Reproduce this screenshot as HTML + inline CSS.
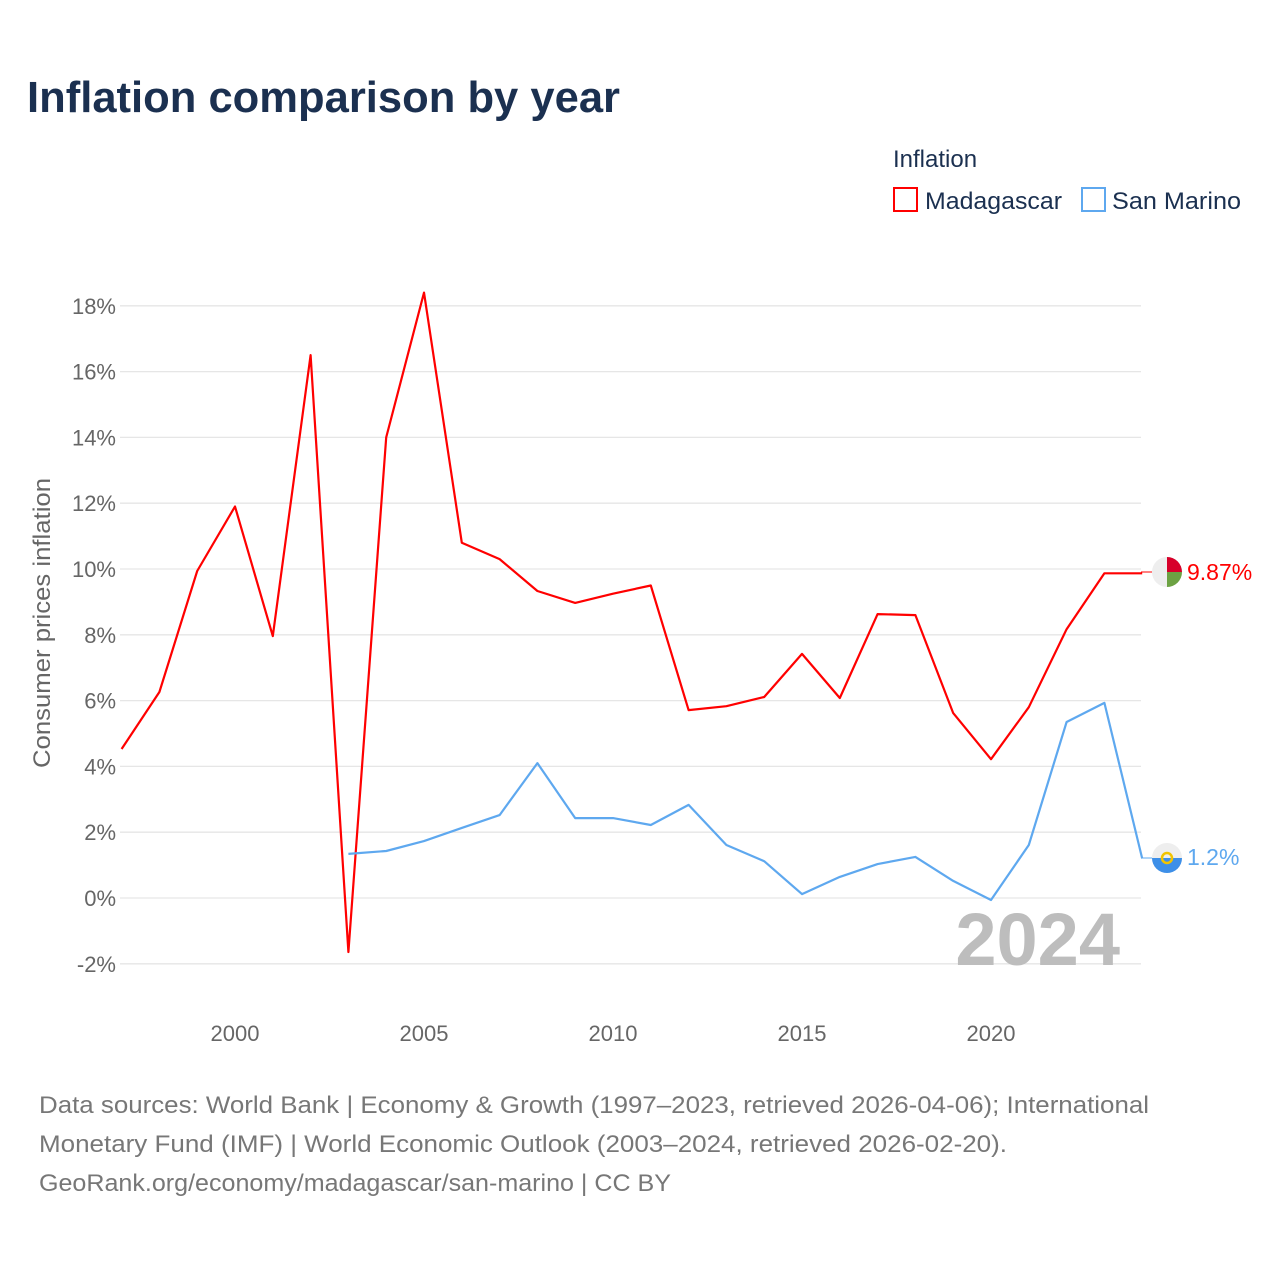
<!DOCTYPE html>
<html><head><meta charset="utf-8"><style>
html,body{margin:0;padding:0;background:#fff;}
svg{display:block;font-family:"Liberation Sans",sans-serif;}
</style></head><body>
<svg id="chart" width="1280" height="1280" viewBox="0 0 1280 1280">
<text x="27" y="112" font-size="44" font-weight="bold" fill="#1b3050" textLength="593" lengthAdjust="spacingAndGlyphs">Inflation comparison by year</text>
<g>
<text x="893" y="167" font-size="24" fill="#1b3050">Inflation</text>
<g>
<rect x="894" y="188" width="23" height="23" fill="#fff" stroke="#ff0000" stroke-width="2"/>
<text x="925" y="209" font-size="24" fill="#1b3050" textLength="137" lengthAdjust="spacingAndGlyphs">Madagascar</text></g>
<g>
<rect x="1082" y="188" width="23" height="23" fill="#fff" stroke="#5ea8ef" stroke-width="2"/>
<text x="1112" y="209" font-size="24" fill="#1b3050" textLength="129" lengthAdjust="spacingAndGlyphs">San Marino</text></g>
</g>
<g id="grid"></g>
<g id="yticks"></g>
<g id="xticks"></g>
<text transform="translate(50,623) rotate(-90)" text-anchor="middle" font-size="24" fill="#666" textLength="290" lengthAdjust="spacingAndGlyphs">Consumer prices inflation</text>
<text x="1120" y="965" text-anchor="end" font-size="74" font-weight="bold" fill="#bdbdbd">2024</text>
<g id="series"></g>
<line x1="1141" y1="572" x2="1152" y2="572" stroke="#ff0000" stroke-width="1"/>
<line x1="1141" y1="858" x2="1152" y2="858" stroke="#5ea8ef" stroke-width="1"/>
<g>
<circle cx="1167" cy="572" r="15" fill="#eee"/>
<path d="M1167 557 A15 15 0 0 1 1182 572 L1167 572 Z" fill="#d7002a"/>
<path d="M1182 572 A15 15 0 0 1 1167 587 L1167 572 Z" fill="#6ca243"/>
</g>
<text x="1187" y="580" font-size="23" fill="#ff0000">9.87%</text>
<g>
<circle cx="1167" cy="858" r="15" fill="#eee"/>
<path d="M1152 858 L1182 858 A15 15 0 0 1 1152 858 Z" fill="#3d8fe8"/>
<circle cx="1167" cy="858" r="5" fill="none" stroke="#f2c400" stroke-width="2.5"/>
</g>
<text x="1187" y="865" font-size="23" fill="#5ea8ef">1.2%</text>
<g font-size="24" fill="#777">
<text x="39" y="1113" textLength="1110" lengthAdjust="spacingAndGlyphs">Data sources: World Bank | Economy &amp; Growth (1997–2023, retrieved 2026-04-06); International</text>
<text x="39" y="1152" textLength="968" lengthAdjust="spacingAndGlyphs">Monetary Fund (IMF) | World Economic Outlook (2003–2024, retrieved 2026-02-20).</text>
<text x="39" y="1191" textLength="632" lengthAdjust="spacingAndGlyphs">GeoRank.org/economy/madagascar/san-marino | CC BY</text>
</g>
</svg>
<script>
const yTicks=[-2,0,2,4,6,8,10,12,14,16,18];
const xTicks=[2000,2005,2010,2015,2020];
const mdgYears=[1997,1998,1999,2000,2001,2002,2003,2004,2005,2006,2007,2008,2009,2010,2011,2012,2013,2014,2015,2016,2017,2018,2019,2020,2021,2022,2023,2024];
const mdgValues=[4.53,6.26,9.94,11.9,7.96,16.5,-1.64,14.0,18.4,10.8,10.3,9.33,8.97,9.25,9.5,5.71,5.83,6.11,7.42,6.08,8.63,8.6,5.62,4.22,5.8,8.17,9.87,9.87];
const smrYears=[2003,2004,2005,2006,2007,2008,2009,2010,2011,2012,2013,2014,2015,2016,2017,2018,2019,2020,2021,2022,2023,2024];
const smrValues=[1.34,1.43,1.73,2.13,2.52,4.1,2.43,2.43,2.22,2.83,1.61,1.12,0.12,0.64,1.03,1.25,0.52,-0.06,1.61,5.35,5.93,1.2];
const NS='http://www.w3.org/2000/svg';
function xs(yr){return 121.6+(yr-1997)*37.8;}
function ys(v){return 898-v*32.9;}
const grid=document.getElementById('grid'),yt=document.getElementById('yticks'),xt=document.getElementById('xticks'),ser=document.getElementById('series');
yTicks.forEach(v=>{
const l=document.createElementNS(NS,'line');


l.setAttribute('x1',120);l.setAttribute('x2',1141);l.setAttribute('y1',ys(v));l.setAttribute('y2',ys(v));
l.setAttribute('stroke','#e6e6e6');l.setAttribute('stroke-width','1.3');grid.appendChild(l);
const t=document.createElementNS(NS,'text');


t.setAttribute('x',116);t.setAttribute('y',ys(v)+8);t.setAttribute('text-anchor','end');t.setAttribute('font-size','22');t.setAttribute('fill','#666');
t.textContent=v+'%';yt.appendChild(t);
});
xTicks.forEach(v=>{
const t=document.createElementNS(NS,'text');


t.setAttribute('x',xs(v));t.setAttribute('y',1041);t.setAttribute('text-anchor','middle');t.setAttribute('font-size','22');t.setAttribute('fill','#666');
t.textContent=v;xt.appendChild(t);
});
function line(years,vals,color,name){
const p=document.createElementNS(NS,'polyline');


p.setAttribute('points',years.map((y,i)=>xs(y).toFixed(1)+','+ys(vals[i]).toFixed(1)).join(' '));
p.setAttribute('fill','none');p.setAttribute('stroke',color);p.setAttribute('stroke-width','2.2');p.setAttribute('stroke-linejoin','round');
ser.appendChild(p);
}
line(mdgYears,mdgValues,'#ff0000','madagascar-line');
line(smrYears,smrValues,'#5ea8ef','san-marino-line');
</script>
</body></html>
